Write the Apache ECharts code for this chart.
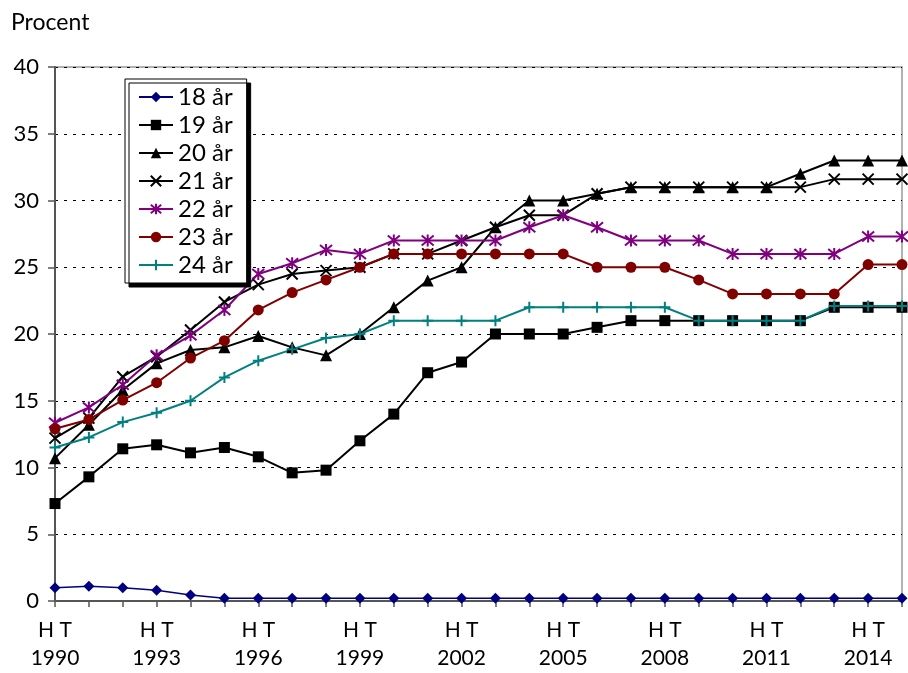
<!DOCTYPE html>
<html><head><meta charset="utf-8">
<script src="https://cdn.jsdelivr.net/npm/echarts@6/dist/echarts.min.js"></script>
<style>html,body{margin:0;padding:0;background:#fff}#c{width:908px;height:673px}</style>
</head><body><div id="c"></div>
<script>
const years = ['1990','1991','1992','1993','1994','1995','1996','1997','1998','1999','2000','2001','2002','2003','2004','2005','2006','2007','2008','2009','2010','2011','2012','2013','2014','2015'];
const yTicks = [0,5,10,15,20,25,30,35,40];
const age18 = [1.0,1.1,1.0,0.8,0.45,0.2,0.2,0.2,0.2,0.2,0.2,0.2,0.2,0.2,0.2,0.2,0.2,0.2,0.2,0.2,0.2,0.2,0.2,0.2,0.2,0.2];
const age19 = [7.3,9.3,11.4,11.7,11.1,11.5,10.8,9.6,9.8,12.0,14.0,17.1,17.9,20.0,20.0,20.0,20.5,21.0,21.0,21.0,21.0,21.0,21.0,22.0,22.0,22.0];
const age20 = [10.7,13.2,15.8,17.8,18.8,19.0,19.85,19.0,18.4,20.0,22.0,24.0,25.0,28.0,30.0,30.0,30.5,31.0,31.0,31.0,31.0,31.0,32.0,33.0,33.0,33.0];
const age21 = [12.2,13.7,16.8,18.3,20.3,22.4,23.7,24.5,24.75,25.0,26.0,26.0,27.0,28.0,28.9,28.9,30.5,31.0,31.0,31.0,31.0,31.0,31.0,31.6,31.6,31.6];
const age22 = [13.35,14.5,16.2,18.4,19.9,21.8,24.5,25.3,26.3,26.0,27.0,27.0,27.0,27.0,28.0,28.9,28.0,27.0,27.0,27.0,26.0,26.0,26.0,26.0,27.3,27.3];
const age23 = [12.9,13.6,15.05,16.35,18.2,19.5,21.8,23.1,24.05,25.0,26.0,26.0,26.0,26.0,26.0,26.0,25.0,25.0,25.0,24.05,23.0,23.0,23.0,23.0,25.2,25.2];
const age24 = [11.5,12.25,13.4,14.1,15.0,16.75,18.0,18.85,19.7,20.0,21.0,21.0,21.0,21.0,22.0,22.0,22.0,22.0,22.0,21.0,21.0,21.0,21.0,22.1,22.1,22.1];
const names = ['18 år','19 år','20 år','21 år','22 år','23 år','24 år'];

const FONT = 'Lato, "DejaVu Sans", sans-serif';
const X_PATH = 'path://M0,0L10,10M10,0L0,10';
const STAR_PATH = 'path://M0,0L10,10M10,0L0,10M5,-1L5,11';
const PLUS_PATH = 'path://M5,0L5,10M0,5L10,5';

function mk(name, data, color, symbol, size, width, stroke) {
  const s = {
    name, type: 'line', data, symbol, symbolSize: size,
    lineStyle: { color, width }, itemStyle: { color },
    emphasis: { disabled: true }, animation: false
  };
  if (stroke) s.itemStyle = { color: 'none', borderColor: color, borderWidth: 2 };
  return s;
}

const chart = echarts.init(document.getElementById('c'));
chart.setOption({
  backgroundColor: '#fff',
  animation: false,
  textStyle: { fontFamily: FONT },
  title: { text: 'Procent', left: 6, top: 6, textStyle: { fontFamily: FONT, fontSize: 23, fontWeight: 'normal', color: '#000' } },
  grid: { left: 55, right: 6, top: 67, bottom: 72, show: true, borderColor: '#999', borderWidth: 1.5 },
  legend: {
    orient: 'vertical', left: 125, top: 79,
    data: names,
    itemWidth: 34, itemHeight: 13, itemGap: 0,
    padding: [4, 14, 4, 13],
    backgroundColor: '#fff', borderColor: '#000', borderWidth: 1,
    shadowColor: '#000', shadowOffsetX: 4, shadowOffsetY: 4, shadowBlur: 0,
    textStyle: { fontFamily: FONT, fontSize: 24, color: '#000', lineHeight: 28 }
  },
  xAxis: {
    type: 'category', data: years, boundaryGap: false,
    axisLine: { lineStyle: { color: '#555', width: 2 } },
    axisTick: { interval: 0, length: 6, lineStyle: { color: '#555', width: 1.5 } },
    axisLabel: { interval: 2, margin: 15, fontSize: 21, color: '#000', lineHeight: 28, formatter: v => 'H T\n' + v },
    splitLine: { show: false }
  },
  yAxis: {
    type: 'value', min: yTicks[0], max: yTicks[yTicks.length-1], interval: 5,
    axisLine: { show: true, lineStyle: { color: '#555', width: 2 } },
    axisTick: { show: true, length: 7, lineStyle: { color: '#555', width: 1.5 } },
    axisLabel: { margin: 16, fontSize: 22, color: '#000' },
    splitLine: { lineStyle: { color: '#000', type: [3, 6], width: 1 } }
  },
  series: [
    mk(names[0], age18, '#000080', 'diamond', 11, 1.5),
    mk(names[1], age19, '#000000', 'rect', 11, 2),
    mk(names[2], age20, '#000000', 'triangle', 12, 2),
    mk(names[3], age21, '#000000', X_PATH, 11, 2, true),
    mk(names[4], age22, '#800080', STAR_PATH, 12, 2, true),
    mk(names[5], age23, '#800000', 'circle', 11, 2),
    mk(names[6], age24, '#008080', PLUS_PATH, 11, 2, true)
  ]
});
</script></body></html>
